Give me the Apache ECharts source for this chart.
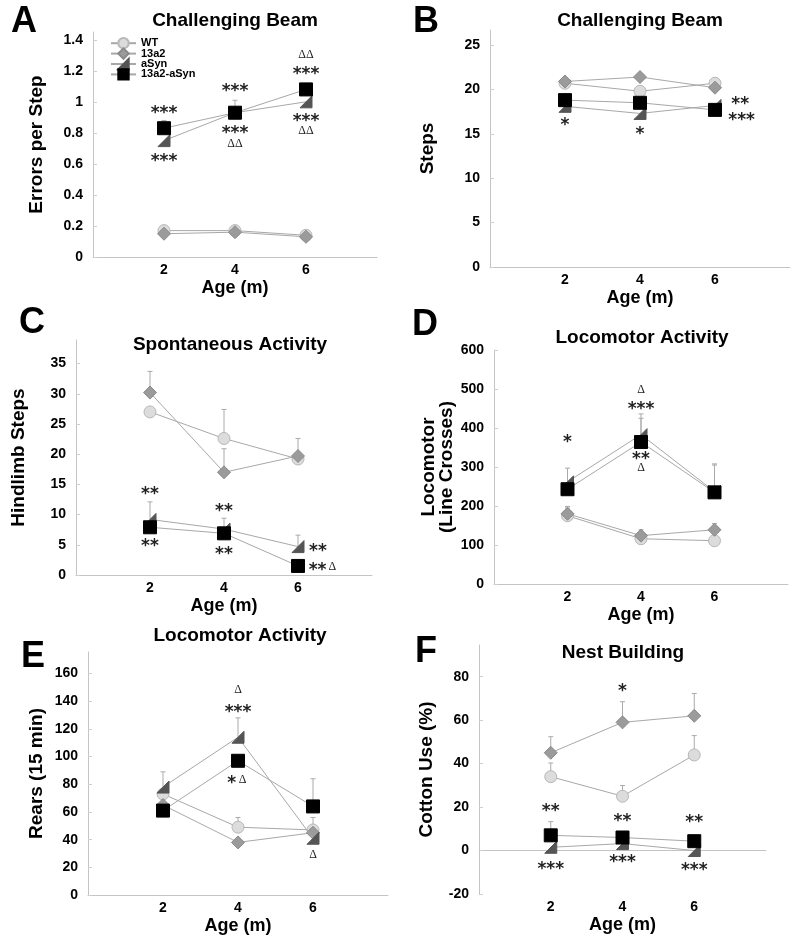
<!DOCTYPE html>
<html><head><meta charset="utf-8">
<script src="https://cdn.jsdelivr.net/npm/echarts@6/dist/echarts.min.js"></script>
<style>html,body{margin:0;padding:0;background:#fff}#c{width:800px;height:948px}</style>
</head><body><div id="c"></div>
<script>
// ---------- shared ----------
const ages = [2, 4, 6];
const xTickLabels = ['2', '4', '6'];
const groups = ['WT', '13a2', 'aSyn', '13a2-aSyn'];

// ---------- A: Challenging Beam (errors per step) ----------
const A_WT = [0.17, 0.17, 0.14];
const A_13a2 = [0.15, 0.16, 0.13];
const A_aSyn = [0.75, 0.93, 1.00];
const A_dbl = [0.83, 0.93, 1.08];
const A_errWT = [null, null, null];
const A_err13a2 = [null, null, null];
const A_erraSyn = [null, null, null];
const A_errdbl = [0.88, 1.01, null];
const A_ann = [[2, 0.95, '***'], [2, 0.64, '***'], [4, 1.09, '***'], [4, 0.82, '***'], [4, 0.73, 'ΔΔ'],
  [6, 1.30, 'ΔΔ'], [6, 1.20, '***'], [6, 0.90, '***'], [6, 0.81, 'ΔΔ']];

// ---------- B: Challenging Beam (steps) ----------
const B_WT = [20.7, 19.8, 20.7];
const B_13a2 = [20.9, 21.4, 20.2];
const B_aSyn = [18.1, 17.3, 18.2];
const B_dbl = [18.8, 18.5, 17.7];
const B_errWT = [null, null, null];
const B_err13a2 = [null, null, null];
const B_erraSyn = [null, null, null];
const B_errdbl = [null, null, null];
const B_ann = [[2, 16.4, '*'], [4, 15.4, '*'], [6.67, 18.8, '**'], [6.71, 17.0, '***']];

// ---------- C: Spontaneous Activity ----------
const C_WT = [27.0, 22.6, 19.2];
const C_13a2 = [30.2, 17.0, 19.7];
const C_aSyn = [9.2, 7.6, 4.7];
const C_dbl = [7.9, 6.9, 1.5];
const C_errWT = [null, 27.4, null];
const C_err13a2 = [33.7, 20.9, 22.6];
const C_erraSyn = [12.1, 9.4, 6.6];
const C_errdbl = [null, null, null];
const C_ann = [[2, 14.0, '**'], [2, 5.4, '**'], [4, 11.2, '**'], [4, 4.0, '**'],
  [6.54, 4.6, '**'], [6.53, 1.4, '**'], [6.93, 1.4, 'Δ']];

// ---------- D: Locomotor Activity (line crosses) ----------
const D_WT = [175, 116, 111];
const D_13a2 = [180, 124, 139];
const D_aSyn = [262, 383, 237];
const D_dbl = [243, 364, 235];
const D_errWT = [195, null, null];
const D_err13a2 = [199, 139, 155];
const D_erraSyn = [297, 436, 305];
const D_errdbl = [null, 425, 308];
const D_ann = [[2, 372, '*'], [4, 498, 'Δ'], [4, 457, '***'], [4, 329, '**'], [4, 297, 'Δ']];

// ---------- E: Locomotor Activity (rears) ----------
const E_WT = [73, 49, 47];
const E_13a2 = [65, 38, 45];
const E_aSyn = [78, 114, 41];
const E_dbl = [61, 97, 64];
const E_errWT = [null, 56, 56];
const E_err13a2 = [null, null, null];
const E_erraSyn = [89, 128, null];
const E_errdbl = [null, null, 84];
const E_ann = [[4, 148, 'Δ'], [4, 135, '***'], [3.83, 83.5, '*'], [4.12, 83.5, 'Δ'], [6, 29, 'Δ']];

// ---------- F: Nest Building ----------
const F_WT = [34, 25, 44];
const F_13a2 = [45, 59, 62];
const F_aSyn = [1.5, 3.2, 0];
const F_dbl = [7, 6, 4.3];
const F_errWT = [40.3, 29.9, 52.9];
const F_err13a2 = [52.4, 68.5, 72.3];
const F_erraSyn = [null, null, null];
const F_errdbl = [13.3, null, null];
const F_ann = [[4, 75, '*'], [2, 20, '**'], [4, 15.3, '**'], [6, 14.7, '**'],
  [2, -7, '***'], [4, -3.8, '***'], [6, -7.4, '***']];

// ---------- layout / style ----------
const FONT = '"Liberation Sans", Arial, sans-serif';
const panels = [
  { letter: 'A', letterPos: [24, 22], title: 'Challenging Beam', titlePos: [235, 21],
    grid: { left: 93, top: 32, width: 284, height: 225 }, yMin: 0, yMax: 1.45, yInt: 0.2,
    yName: 'Errors per Step', yGap: 47,
    data: [A_WT, A_13a2, A_aSyn, A_dbl], err: [A_errWT, A_err13a2, A_erraSyn, A_errdbl], ann: A_ann },
  { letter: 'B', letterPos: [426, 22], title: 'Challenging Beam', titlePos: [640, 21],
    grid: { left: 490, top: 30, width: 300, height: 237 }, yMin: 0, yMax: 26.7, yInt: 5,
    yName: 'Steps', yGap: 53,
    data: [B_WT, B_13a2, B_aSyn, B_dbl], err: [B_errWT, B_err13a2, B_erraSyn, B_errdbl], ann: B_ann },
  { letter: 'C', letterPos: [32, 323], title: 'Spontaneous Activity', titlePos: [230, 345],
    grid: { left: 76, top: 340, width: 296, height: 235 }, yMin: 0, yMax: 38.9, yInt: 5,
    yName: 'Hindlimb Steps', yGap: 48,
    data: [C_WT, C_13a2, C_aSyn, C_dbl], err: [C_errWT, C_err13a2, C_erraSyn, C_errdbl], ann: C_ann },
  { letter: 'D', letterPos: [425, 325], title: 'Locomotor Activity', titlePos: [642, 338],
    grid: { left: 494, top: 350, width: 294, height: 234 }, yMin: 0, yMax: 600, yInt: 100,
    yName: 'Locomotor\n(Line Crosses)', yGap: 38,
    data: [D_WT, D_13a2, D_aSyn, D_dbl], err: [D_errWT, D_err13a2, D_erraSyn, D_errdbl], ann: D_ann },
  { letter: 'E', letterPos: [33, 657], title: 'Locomotor Activity', titlePos: [240, 636],
    grid: { left: 88, top: 652, width: 300, height: 243 }, yMin: 0, yMax: 175.6, yInt: 20,
    yName: 'Rears (15 min)', yGap: 42,
    data: [E_WT, E_13a2, E_aSyn, E_dbl], err: [E_errWT, E_err13a2, E_erraSyn, E_errdbl], ann: E_ann },
  { letter: 'F', letterPos: [426, 652], title: 'Nest Building', titlePos: [623, 653],
    grid: { left: 479, top: 645, width: 287, height: 249 }, yMin: -20, yMax: 94.6, yInt: 20,
    yName: 'Cotton Use (%)', yGap: 43,
    data: [F_WT, F_13a2, F_aSyn, F_dbl], err: [F_errWT, F_err13a2, F_erraSyn, F_errdbl], ann: F_ann }
];

const TRI = 'path://M10,0 L10,10 L0,10 Z';
const groupStyle = [
  { symbol: 'circle', size: 12, color: '#dcdcdc', border: '#b8b8b8' },
  { symbol: 'diamond', size: 13, color: '#9b9b9b', border: '#8a8a8a' },
  { symbol: TRI, size: 12, color: '#555555', border: '#555555' },
  { symbol: 'rect', size: 13, color: '#000000', border: '#000000' }
];

const grids = [], xAxes = [], yAxes = [], series = [], graphics = [];
panels.forEach((p, i) => {
  const steps = (p.yMax - p.yMin) / p.yInt;
  const maxAligned = Math.abs(steps - Math.round(steps)) < 1e-6;
  grids.push(Object.assign({ outerBoundsMode: 'none', containLabel: false }, p.grid));
  xAxes.push({
    type: 'value', gridIndex: i, min: 0, max: 8, interval: 2,
    name: 'Age (m)', nameLocation: 'middle', nameGap: 22,
    nameTextStyle: { fontFamily: FONT, fontWeight: 'bold', fontSize: 18, color: '#000' },
    axisLine: { lineStyle: { color: '#c4c4c4', width: 1 } },
    axisTick: { show: false }, splitLine: { show: false },
    axisLabel: { margin: 6, fontFamily: FONT, fontWeight: 'bold', fontSize: 14, color: '#000',
      formatter: v => { const k = ages.indexOf(v); return k >= 0 ? xTickLabels[k] : ''; } }
  });
  yAxes.push({
    type: 'value', gridIndex: i, min: p.yMin, max: p.yMax, interval: p.yInt,
    name: p.yName, nameLocation: 'middle', nameGap: p.yGap, nameRotate: 90,
    nameTextStyle: { fontFamily: FONT, fontWeight: 'bold', fontSize: 19, color: '#000', lineHeight: 18 },
    axisLine: { show: true, lineStyle: { color: '#c4c4c4', width: 1 } },
    axisTick: { show: true, inside: true, length: 4, lineStyle: { color: '#cfcfcf' } },
    splitLine: { show: false },
    axisLabel: { margin: 10, showMaxLabel: maxAligned, fontFamily: FONT, fontWeight: 'bold', fontSize: 14, color: '#000',
      formatter: v => {
        const q = (v - p.yMin) / p.yInt;
        return Math.abs(q - Math.round(q)) < 1e-6 ? String(+v.toFixed(2)) : '';
      } }
  });
  // error bars (behind markers)
  const errRows = [];
  p.err.forEach((arr, g) => arr.forEach((u, j) => { if (u != null) errRows.push([ages[j], p.data[g][j], u]); }));
  series.push({
    type: 'custom', xAxisIndex: i, yAxisIndex: i, z: 1, silent: true, animation: false,
    data: errRows,
    renderItem: (params, api) => {
      const a = api.coord([api.value(0), api.value(1)]);
      const b = api.coord([api.value(0), api.value(2)]);
      return { type: 'group', children: [
        { type: 'line', shape: { x1: a[0], y1: a[1], x2: b[0], y2: b[1] }, style: { stroke: '#aaaaaa', lineWidth: 1 } },
        { type: 'line', shape: { x1: b[0] - 2.5, y1: b[1], x2: b[0] + 2.5, y2: b[1] }, style: { stroke: '#aaaaaa', lineWidth: 1 } }
      ] };
    }
  });
  // group lines
  groups.forEach((gname, g) => {
    const st = groupStyle[g];
    series.push({
      type: 'line', name: gname, xAxisIndex: i, yAxisIndex: i, z: 2 + g, animation: false,
      data: ages.map((a, j) => [a, p.data[g][j]]),
      symbol: st.symbol, symbolSize: st.size, showAllSymbol: true,
      itemStyle: { color: st.color, borderColor: st.border, borderWidth: 1, opacity: 1 },
      lineStyle: { color: '#a8a8a8', width: 1 },
      emphasis: { disabled: true }
    });
  });
  // annotations
  const ann = p.ann;
  series.push({
    type: 'custom', xAxisIndex: i, yAxisIndex: i, z: 10, silent: true, animation: false,
    data: ann.map(r => [r[0], r[1]]),
    renderItem: (params, api) => {
      const r = ann[params.dataIndex];
      const c = api.coord([r[0], r[1]]);
      const isStar = r[2].indexOf('*') >= 0;
      return { type: 'text', x: c[0], y: c[1] + (isStar ? 4 : 0), style: {
        text: r[2], align: 'center', verticalAlign: 'middle', fill: '#222',
        font: isStar ? 'bold 17px "DejaVu Sans"' : '12px "Liberation Serif"' } };
    }
  });
  graphics.push({ type: 'text', x: p.letterPos[0], y: p.letterPos[1], style: {
    text: p.letter, align: 'center', verticalAlign: 'middle', fill: '#000', font: 'bold 36px ' + FONT } });
  graphics.push({ type: 'text', x: p.titlePos[0], y: p.titlePos[1], style: {
    text: p.title, align: 'center', verticalAlign: 'middle', fill: '#000', font: 'bold 19px ' + FONT } });
});

const chart = echarts.init(document.getElementById('c'), null, { renderer: 'canvas' });
chart.setOption({
  backgroundColor: '#ffffff',
  animation: false,
  grid: grids, xAxis: xAxes, yAxis: yAxes, series: series,
  graphic: graphics,
  legend: {
    data: groups, orient: 'vertical', left: 110, top: 37, padding: 0,
    itemWidth: 25, itemHeight: 13, itemGap: -2, selectedMode: false,
    textStyle: { fontFamily: FONT, fontWeight: 'bold', fontSize: 11, color: '#000' }
  }
});
</script></body></html>
